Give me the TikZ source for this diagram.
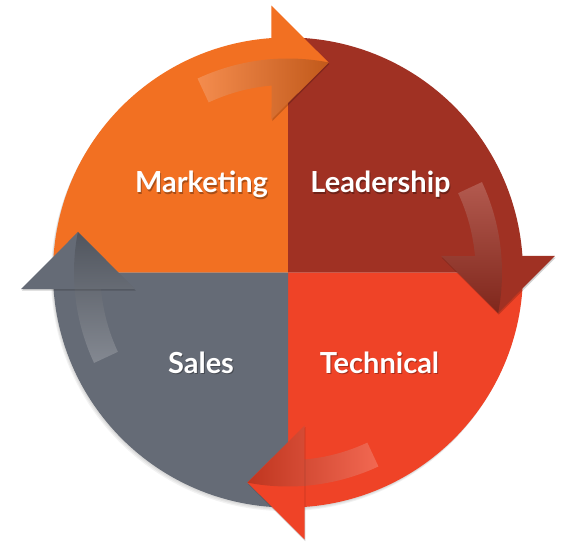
\documentclass[tikz,border=0pt]{standalone}
\usepackage{fontspec}
\setmainfont{Lato}
\definecolor{mkt}{RGB}{242,112,34}
\definecolor{lead}{RGB}{160,49,35}
\definecolor{tech}{RGB}{239,67,39}
\definecolor{sales}{RGB}{101,107,118}
\tikzset{
  lbl/.style={text=white,font=\bfseries\fontsize{29}{34}\selectfont,anchor=base,inner sep=0pt},
  lblsh/.style={lbl,text=black,opacity=0.3},
  headsh/.style={fill=black,opacity=0.18},
  hilite/.style={opacity=0.2,top color=white,middle color=white!80!black,bottom color=black}
}
\begin{document}
\begin{tikzpicture}[x=1pt,y=1pt]
\useasboundingbox (-288,-273.5) rectangle (279,272.5);
\fill[white] (-288,-273.5) rectangle (279,272.5);
% circle shadow
\foreach \i in {1,2,3} \fill[black,opacity=0.05] (-0.7*\i,-1.2*\i) circle (235);
% quadrants
\fill[mkt] (0,0) -- (90:235) arc[start angle=90,end angle=180,radius=235] -- cycle;
\fill[lead] (0,0) -- (0:235) arc[start angle=0,end angle=90,radius=235] -- cycle;
\fill[tech] (0,0) -- (-90:235) arc[start angle=-90,end angle=0,radius=235] -- cycle;
\fill[sales] (0,0) -- (180:235) arc[start angle=180,end angle=270,radius=235] -- cycle;
% arrow heads
\foreach \a/\c in {90/mkt,0/lead,-90/tech,180/sales} {
  \fill[headsh] ([shift={(0.8,-1.6)}]{\a+6.16}:153.9) -- ([shift={(0.8,-1.6)}]{\a+3.54}:267.5) -- ([shift={(0.8,-1.6)}]{\a-10.92}:213.87) -- cycle;
  \fill[\c] ({\a+6.16}:153.9) -- ({\a+3.54}:267.5) -- ({\a-10.92}:213.87) -- cycle;
}
% highlight arrows
\foreach \a in {90,0,-90,180} {
  \shade[hilite,shading angle=\a] ({\a+25}:214) arc[start angle=\a+25,end angle=\a-10.92,radius=214]
    -- ({\a+6.16}:153.9) -- ({\a+5.04}:187.7)
    arc[start angle=\a+5.04,end angle=\a+25,radius=187.7] -- cycle;
}
% labels
\node[lblsh] at (-85.5,78) {Marketing};
\node[lbl] (m) at (-86.5,79.5) {Marketing};
\node[lblsh] at (93.5,78) {Leadership};
\node[lbl] (l) at (92.5,79.5) {Leadership};
\node[lblsh] at (-86,-102) {Sales};
\node[lbl] (s) at (-87,-100.5) {Sales};
\node[lblsh] at (92.5,-102) {Technical};
\node[lbl] (t) at (91.5,-100.5) {Technical};
\end{tikzpicture}
\end{document}
